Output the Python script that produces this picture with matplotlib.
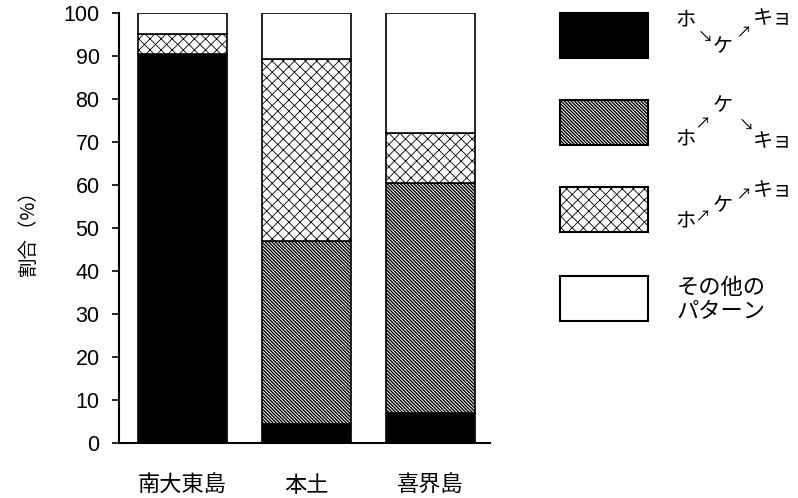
import matplotlib
matplotlib.use("Agg")
import matplotlib.pyplot as plt
from matplotlib.patches import Rectangle
import numpy as np

plt.rcParams["font.family"] = ["Liberation Sans", "Noto Sans CJK JP", "DejaVu Sans"]

# data (percent, bottom to top)
sites = ["南大東島", "本土", "喜界島"]
pattern_down_up = [90.5, 4.4, 7.0]      # ホ↘ケ↗キョ
pattern_up_down = [0.0, 42.6, 53.4]     # ホ↗ケ↘キョ
pattern_up_up = [4.7, 42.3, 11.7]       # ホ↗ケ↗キョ
pattern_other = [4.8, 10.7, 27.9]       # その他のパターン
yticks = list(range(0, 101, 10))

series = [pattern_down_up, pattern_up_down, pattern_up_up, pattern_other]
styles = [
    dict(color="black", hatch=None, hlw=1.0),
    dict(color="white", hatch="\\" * 10, hlw=1.0),
    dict(color="white", hatch="xxx", hlw=0.6),
    dict(color="white", hatch=None, hlw=1.0),
]

fig = plt.figure(figsize=(7.98, 4.98), dpi=100)
ax = fig.add_axes([119 / 798, 55 / 498, (490 - 119) / 798, (443 - 13) / 498])

x = np.arange(len(sites))
bottom = np.zeros(len(sites))
for vals, st in zip(series, styles):
    vals = np.array(vals)
    # hatch line width is taken from rcParams when the patch is made
    with plt.rc_context({"hatch.linewidth": st["hlw"]}):
        ax.bar(x, vals, width=0.72, bottom=bottom, color=st["color"], hatch=st["hatch"],
               edgecolor="black", linewidth=1.2)
    bottom += vals

ax.set_xlim(-0.51, 2.48)
ax.set_ylim(0, 100)
ax.set_yticks(yticks)
ax.set_xticks(x)
ax.set_xticklabels(sites, fontsize=16, family=["Noto Sans CJK JP"])
ax.tick_params(axis="x", length=0, pad=22)
ax.tick_params(axis="y", direction="out", length=5, width=1.2, labelsize=15.5, pad=9)
for s in ["top", "right"]:
    ax.spines[s].set_visible(False)
ax.spines["left"].set_linewidth(1.5)
ax.spines["bottom"].set_linewidth(1.5)
ax.set_ylabel("割合（%）", fontsize=14, family=["Noto Sans CJK JP"], labelpad=18)

# hand-drawn legend in pixel coordinates
lg = fig.add_axes([0, 0, 1, 1])
lg.set_xlim(0, 798)
lg.set_ylim(498, 0)
lg.axis("off")
box_tops = [13, 100, 187, 276]
for top, st in zip(box_tops, styles):
    with plt.rc_context({"hatch.linewidth": st["hlw"]}):
        lg.add_patch(Rectangle((560, top), 88, 45, facecolor=st["color"], hatch=st["hatch"],
                               edgecolor="black", linewidth=1.5))

jp = ["Noto Sans CJK JP"]
# arrows: a right arrow turned up (45) or down (-45)
legend_text = [
    [("ホ", 685, 20), ("down", 704, 37), ("ケ", 723, 47), ("up", 745, 32), ("キョ", 773, 18)],
    [("ホ", 685, 139), ("up", 704, 123), ("ケ", 723, 106), ("down", 745, 125), ("キョ", 773, 141)],
    [("ホ", 685, 221), ("up", 704, 216), ("ケ", 723, 206), ("up", 745, 194), ("キョ", 773, 190)],
]
for row in legend_text:
    for txt, px, py in row:
        if txt in ("up", "down"):
            lg.text(px, py, "→", fontsize=11, family=jp, ha="center", va="center",
                    rotation=45 if txt == "up" else -45, rotation_mode="anchor")
        else:
            lg.text(px, py, txt, fontsize=14.5, family=jp, ha="center", va="center")
lg.text(677, 287, "その他の", fontsize=16, family=jp, ha="left", va="center")
lg.text(677, 312, "パターン", fontsize=16, family=jp, ha="left", va="center")

fig.savefig("out.png", dpi=100)
